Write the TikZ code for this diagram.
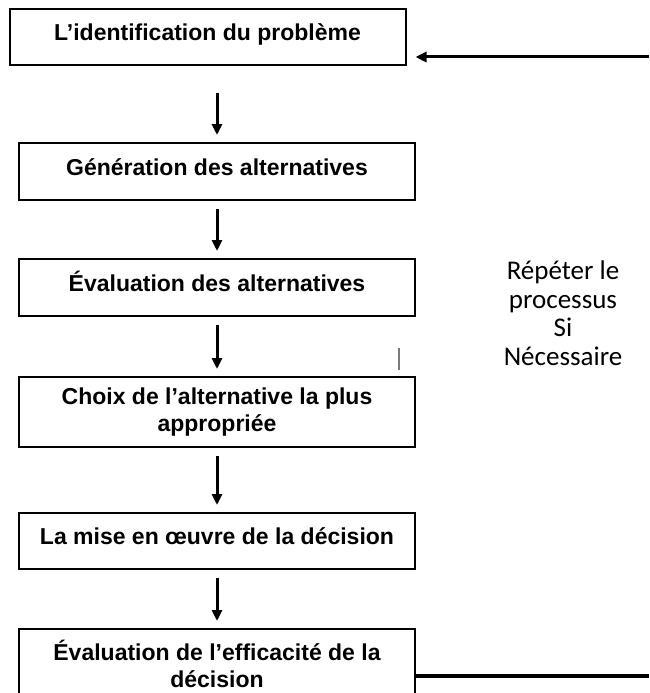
\documentclass[tikz,border=0pt]{standalone}
\usepackage{xcolor}
\usepackage{fontspec}
\setmainfont{Liberation Sans}
\newfontfamily\notefont{Carlito}
\usepackage{tikz}
\usetikzlibrary{positioning,arrows.meta}
\definecolor{ink}{HTML}{000000}
\definecolor{tick}{HTML}{7A7A7A}

\begin{document}
\begin{tikzpicture}[x=1pt,y=-1pt,
  box/.style={draw=ink,line width=2pt,outer sep=0pt,minimum width=396pt,minimum height=56pt,align=center,font=\fontsize{23}{26.5}\selectfont\bfseries},
  one/.style={box,text height=17pt,text depth=10pt},
  tall/.style={box,minimum height=70pt},
  arr/.style={-{Triangle[length=11pt,width=10pt]},color=ink,line width=3pt},
  back/.style={color=ink,line width=3.5pt},
  note/.style={align=center,font=\notefont\fontsize{27}{28.5}\selectfont}]
\useasboundingbox (0,0) rectangle (649,693);
\node[one,anchor=north] (ident) at (207.5,9) {L’identification du problème};
\node[one,minimum height=57pt,below=78pt of ident,xshift=9.5pt] (gen) {Génération des alternatives};
\node[one,minimum height=57pt,below=59pt of gen] (evalt) {Évaluation des alternatives};
\node[tall,below=61pt of evalt] (choice) {Choix de l’alternative la plus\\appropriée};
\node[one,below=66pt of choice] (impl) {La mise en œuvre de la décision};
\node[tall,below=60pt of impl] (effic) {Évaluation de l’efficacité de la\\décision};
\node[note] (repeat) at (563,313) {Répéter le\\processus\\Si\\Nécessaire};
\coordinate (loopin) at (649,57);
\coordinate (loopout) at (649,676);
\coordinate (tickA) at (399,348);
\coordinate (tickB) at (399,370);
\draw[arr,shorten <=28pt,shorten >=8pt] (ident.south -| gen.north)--(gen.north);
\draw[arr,shorten <=9pt,shorten >=8pt] (gen)--(evalt); \draw[arr,shorten <=9pt,shorten >=8pt] (evalt)--(choice);
\draw[arr,shorten <=9pt,shorten >=8pt] (choice)--(impl); \draw[arr,shorten <=9pt,shorten >=8pt] (impl)--(effic);
\draw[arr,shorten >=10pt] (loopin)--(loopin -| ident.east);
\draw[back] (loopout -| effic.east)--(loopout);
\draw[tick,line width=1.2pt] (tickA)--(tickB);
\end{tikzpicture}
\end{document}
